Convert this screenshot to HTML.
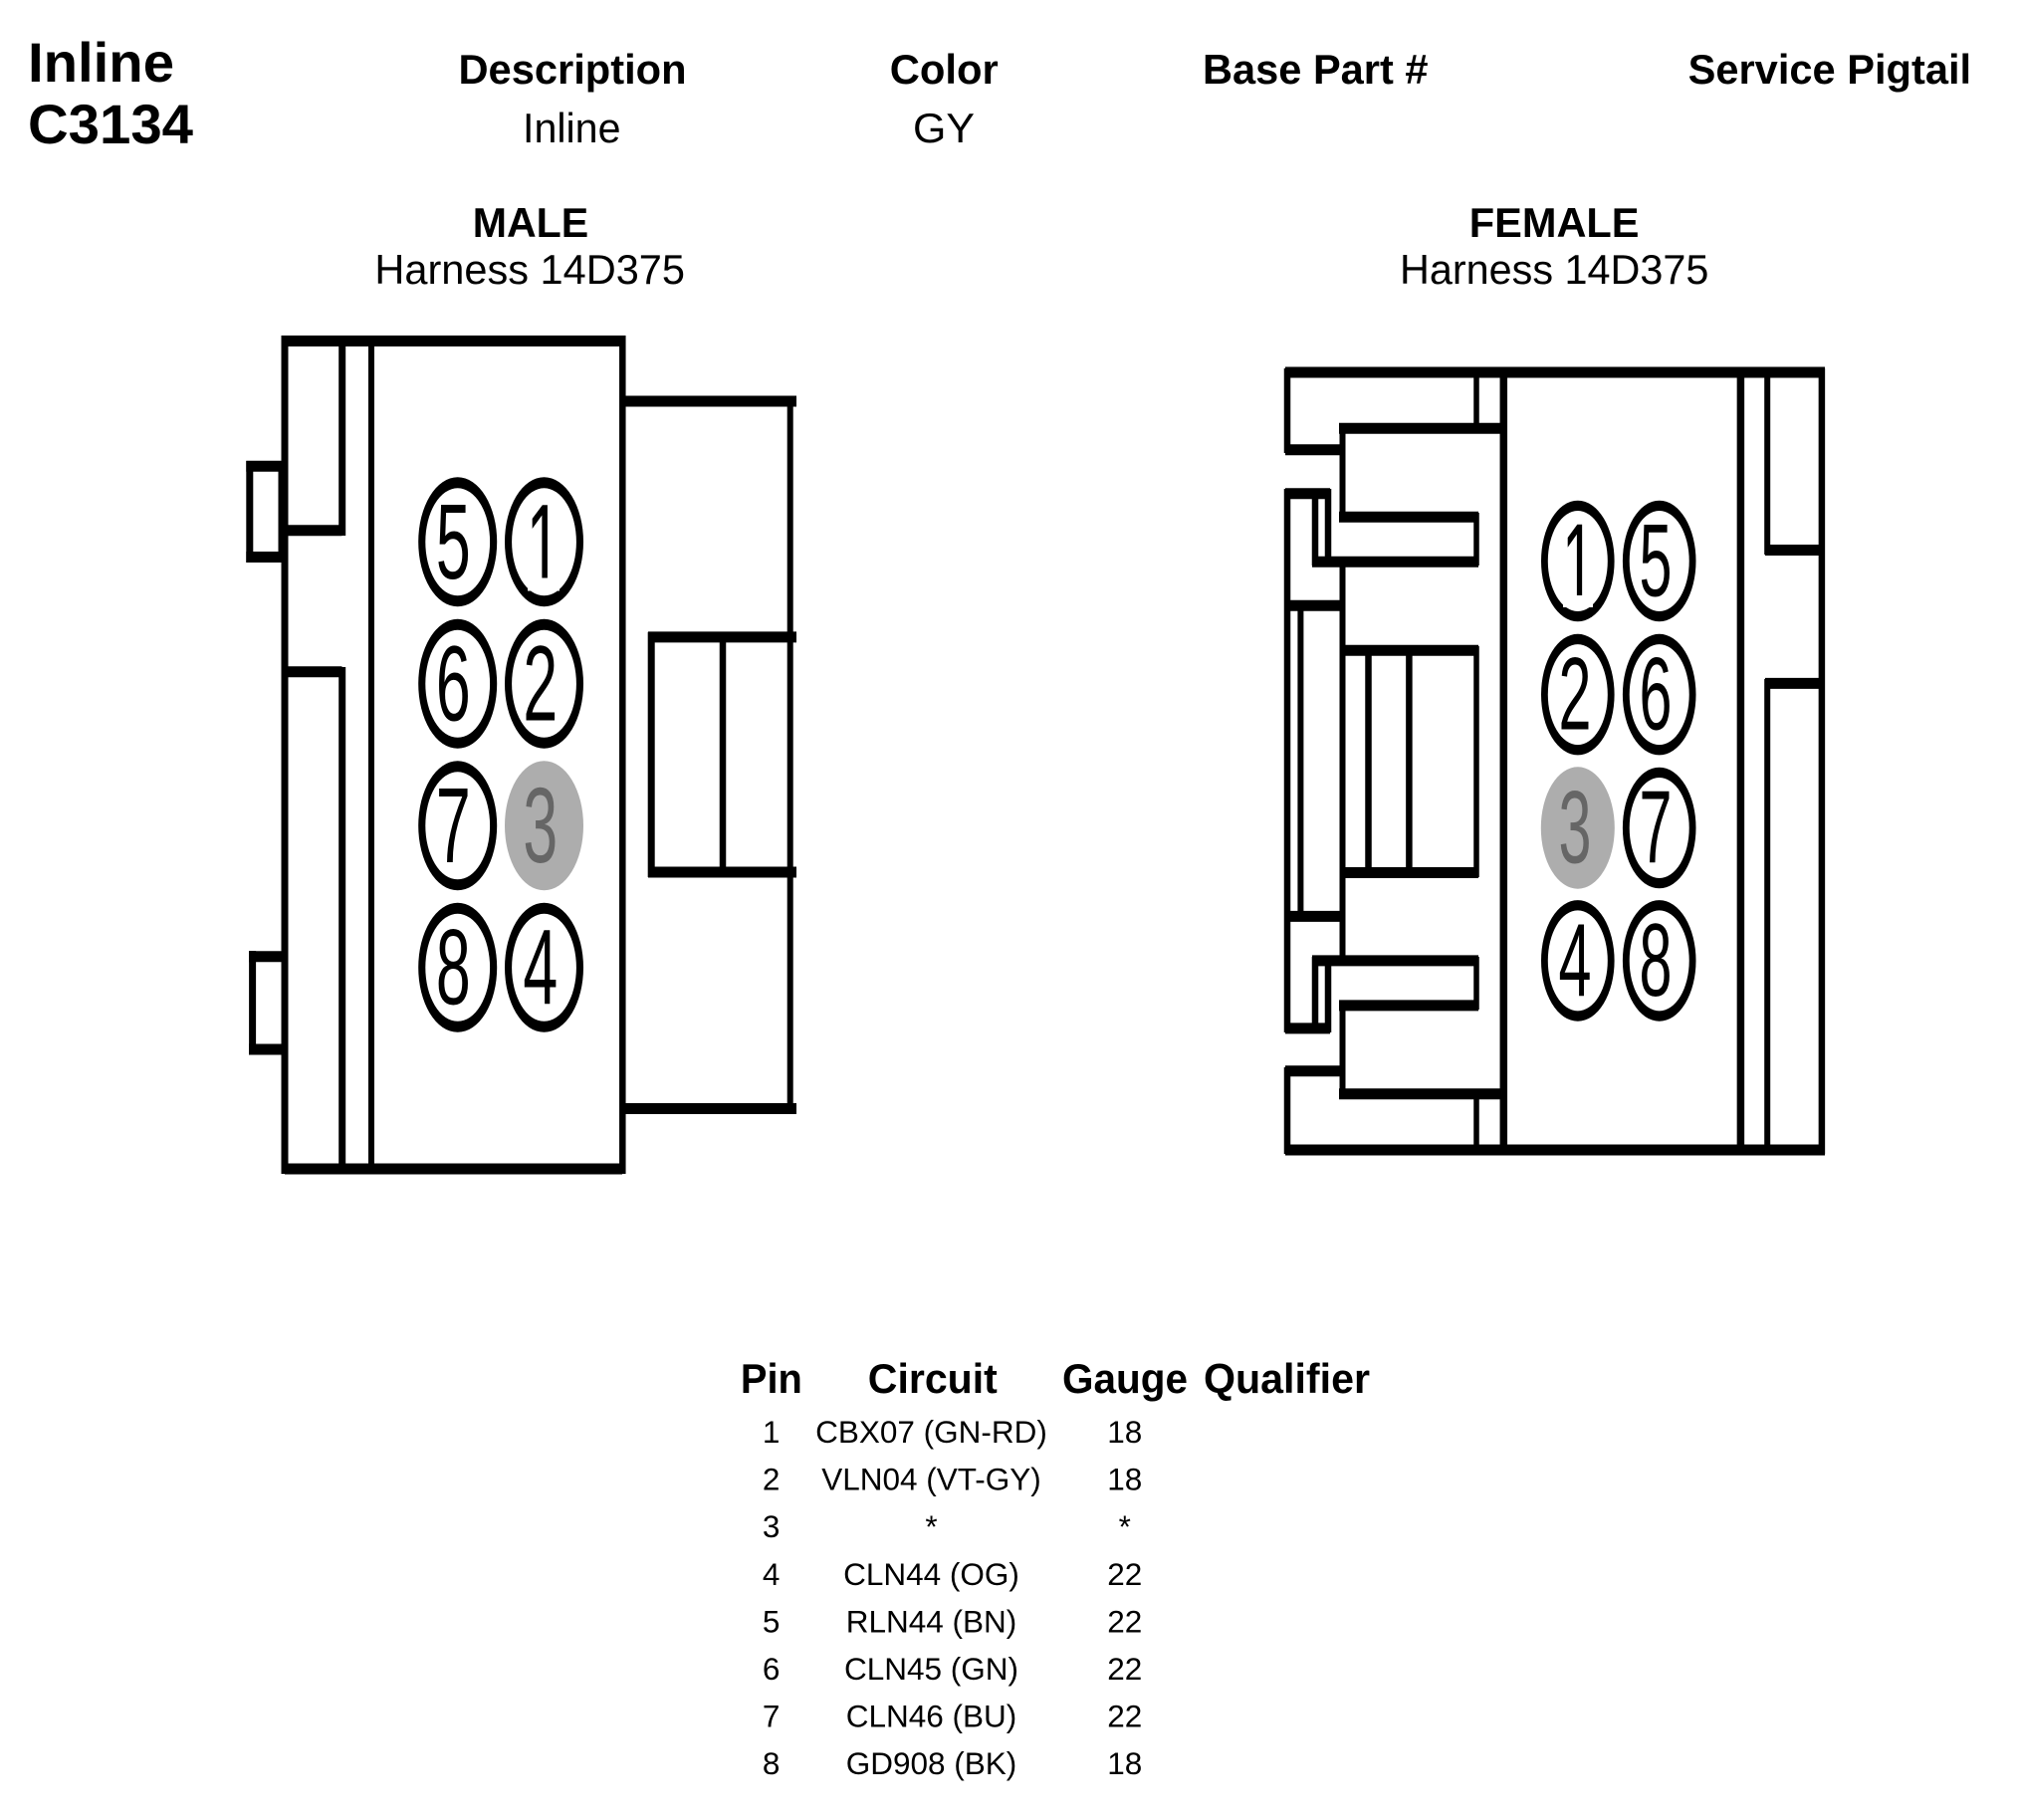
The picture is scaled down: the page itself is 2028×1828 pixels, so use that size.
<!DOCTYPE html>
<html lang="en">
<head>
<meta charset="utf-8">
<title>Inline C3134</title>
<style>
html,body{margin:0;padding:0;background:#fff}
svg{display:block}
text{font-family:"Liberation Sans",sans-serif;fill:#000}
.b{font-weight:700}
.n{font-size:108px}
.f{font-size:104px}
.r{font-size:31.5px;text-anchor:middle}
</style>
</head>
<body>
<svg xmlns="http://www.w3.org/2000/svg" width="2028" height="1828" viewBox="0 0 2028 1828">
<rect width="2028" height="1828" fill="#fff"/>

<!-- header -->
<text class="b" x="28" y="82" font-size="56" textLength="147" lengthAdjust="spacingAndGlyphs">Inline</text>
<text class="b" x="28" y="144" font-size="56" textLength="166" lengthAdjust="spacingAndGlyphs">C3134</text>
<text class="b" x="460.5" y="84" font-size="42" textLength="229" lengthAdjust="spacingAndGlyphs">Description</text>
<text class="b" x="893.7" y="84" font-size="42" textLength="109" lengthAdjust="spacingAndGlyphs">Color</text>
<text class="b" x="1208" y="84" font-size="42" textLength="226.5" lengthAdjust="spacingAndGlyphs">Base Part #</text>
<text class="b" x="1695.6" y="84" font-size="42" textLength="284.5" lengthAdjust="spacingAndGlyphs">Service Pigtail</text>
<text x="525" y="143" font-size="42" textLength="98.5" lengthAdjust="spacingAndGlyphs">Inline</text>
<text x="917" y="143" font-size="42" textLength="62" lengthAdjust="spacingAndGlyphs">GY</text>
<text class="b" x="474.7" y="238" font-size="42" textLength="116.5" lengthAdjust="spacingAndGlyphs">MALE</text>
<text class="b" x="1475.8" y="238" font-size="42" textLength="170.7" lengthAdjust="spacingAndGlyphs">FEMALE</text>
<text x="376.4" y="285" font-size="42" textLength="311.6" lengthAdjust="spacingAndGlyphs">Harness 14D375</text>
<text x="1406" y="285" font-size="42" textLength="310.4" lengthAdjust="spacingAndGlyphs">Harness 14D375</text>

<!-- male: horizontal lines -->
<g stroke="#000" fill="none" stroke-width="11">
<path d="M286 342.5H625M286 1174H625M286 532.8H343.5M286 674.7H343.5"/>
<path d="M628 403H800M628 1113.5H800M651 639.9H800M651 876H800"/>
<path d="M247.3 468.3H284M247.3 559.5H284M250 960.8H289M250 1054H289"/>
</g>
<!-- male: vertical lines -->
<g stroke="#000" fill="none" stroke-width="7">
<path d="M286 337V1179"/>
<path d="M343.7 337V538M343.7 670V1179"/>
<path stroke-width="6" d="M373 337V1179"/>
<path stroke-width="6.5" d="M625.3 337V1179"/>
<path stroke-width="6" d="M793.7 398V1118"/>
<path d="M654.2 635V881"/>
<path stroke-width="6.5" d="M726 635V881"/>
<path d="M250.8 463V565"/>
<path d="M283 463V565"/>
<path d="M253.6 955V1059"/>
</g>

<!-- male pins -->
<g>
<ellipse cx="459.7" cy="544.3" rx="39.5" ry="65"/><ellipse cx="459.7" cy="544.3" rx="32.4" ry="54" fill="#fff"/>
<ellipse cx="546.5" cy="544.3" rx="39.5" ry="65"/><ellipse cx="546.5" cy="544.3" rx="32.4" ry="54" fill="#fff"/>
<ellipse cx="459.7" cy="686.8" rx="39.5" ry="65"/><ellipse cx="459.7" cy="686.8" rx="32.4" ry="54" fill="#fff"/>
<ellipse cx="546.5" cy="686.8" rx="39.5" ry="65"/><ellipse cx="546.5" cy="686.8" rx="32.4" ry="54" fill="#fff"/>
<ellipse cx="459.7" cy="829.3" rx="39.5" ry="65"/><ellipse cx="459.7" cy="829.3" rx="32.4" ry="54" fill="#fff"/>
<ellipse cx="546.5" cy="829.3" rx="39.5" ry="65" fill="#adadad"/>
<ellipse cx="459.7" cy="971.8" rx="39.5" ry="65"/><ellipse cx="459.7" cy="971.8" rx="32.4" ry="54" fill="#fff"/>
<ellipse cx="546.5" cy="971.8" rx="39.5" ry="65"/><ellipse cx="546.5" cy="971.8" rx="32.4" ry="54" fill="#fff"/>
</g>
<g text-anchor="middle">
<text class="n" transform="translate(455.3 581) scale(.58 1)">5</text>
<text class="n" transform="translate(546 591) scale(.58 1.13)">1</text>
<text class="n" transform="translate(455.3 723.5) scale(.58 1)">6</text>
<text class="n" transform="translate(542.8 723.5) scale(.58 1)">2</text>
<text class="n" transform="translate(455.3 866) scale(.58 1)">7</text>
<text class="n" transform="translate(542.8 866) scale(.58 1)" style="fill:#666">3</text>
<text class="n" transform="translate(455.3 1008.5) scale(.58 1)">8</text>
<text class="n" transform="translate(542.8 1008.5) scale(.58 1)">4</text>
</g>
<rect x="530" y="580.5" width="32" height="13" fill="#fff"/>

<!-- female: horizontal lines -->
<g stroke="#000" fill="none" stroke-width="11">
<path d="M1291 374H1833M1291 1155H1833"/>
<path d="M1291 451.8H1349M1345 430.3H1510M1345 519.3H1485"/>
<path d="M1318 564.2H1485M1291 495.7H1336"/>
<path d="M1291 608.2H1351M1291 920.4H1351"/>
<path d="M1346 653.2H1485M1346 876.5H1485"/>
<path d="M1318 964.9H1485M1345 1009.9H1485"/>
<path d="M1345 1098.8H1510M1291 1032.9H1336M1291 1075.8H1349"/>
<path d="M1773 552.5H1830M1773 686.4H1830"/>
</g>
<!-- female: vertical lines -->
<g stroke="#000" fill="none" stroke-width="6.5">
<path d="M1293 370V455M1293 491V1037M1293 1072V1159"/>
<path stroke-width="6" d="M1348.5 426V523M1348.5 560V968M1348.5 1006V1103"/>
<path d="M1321 496V568M1334 491V568"/>
<path d="M1321 961V1037M1334 961V1037"/>
<path stroke-width="6" d="M1306.4 604V925"/>
<path d="M1374.5 650V880"/>
<path d="M1415.4 650V880"/>
<path stroke-width="5.5" d="M1483 370V430M1483 515V568M1483 649V881M1483 961V1014M1483 1096V1159"/>
<path stroke-width="7.5" d="M1510.3 370V1159"/>
<path stroke-width="7.5" d="M1748.4 370V1159"/>
<path stroke-width="6" d="M1775.2 370V557M1775.2 682V1159"/>
<path d="M1829.9 370V1159"/>
</g>

<!-- female pins -->
<g>
<ellipse cx="1584.8" cy="563.5" rx="36.8" ry="60.8"/><ellipse cx="1584.8" cy="563.5" rx="30" ry="50.5" fill="#fff"/>
<ellipse cx="1666.7" cy="563.5" rx="36.8" ry="60.8"/><ellipse cx="1666.7" cy="563.5" rx="30" ry="50.5" fill="#fff"/>
<ellipse cx="1584.8" cy="697.6" rx="36.8" ry="60.8"/><ellipse cx="1584.8" cy="697.6" rx="30" ry="50.5" fill="#fff"/>
<ellipse cx="1666.7" cy="697.6" rx="36.8" ry="60.8"/><ellipse cx="1666.7" cy="697.6" rx="30" ry="50.5" fill="#fff"/>
<ellipse cx="1584.8" cy="831.5" rx="37" ry="61.2" fill="#adadad"/>
<ellipse cx="1666.7" cy="831.5" rx="36.8" ry="60.8"/><ellipse cx="1666.7" cy="831.5" rx="30" ry="50.5" fill="#fff"/>
<ellipse cx="1584.8" cy="964.9" rx="36.8" ry="60.8"/><ellipse cx="1584.8" cy="964.9" rx="30" ry="50.5" fill="#fff"/>
<ellipse cx="1666.7" cy="964.9" rx="36.8" ry="60.8"/><ellipse cx="1666.7" cy="964.9" rx="30" ry="50.5" fill="#fff"/>
</g>
<g text-anchor="middle">
<text class="f" transform="translate(1585.5 608) scale(.57 1.13)">1</text>
<text class="f" transform="translate(1663 598.5) scale(.57 1)">5</text>
<text class="f" transform="translate(1582 732.6) scale(.57 1)">2</text>
<text class="f" transform="translate(1663 732.6) scale(.57 1)">6</text>
<text class="f" transform="translate(1582 866.5) scale(.57 1)" style="fill:#666">3</text>
<text class="f" transform="translate(1663 866.5) scale(.57 1)">7</text>
<text class="f" transform="translate(1582 999.9) scale(.57 1)">4</text>
<text class="f" transform="translate(1663 999.9) scale(.57 1)">8</text>
</g>
<rect x="1570" y="598" width="30" height="12" fill="#fff"/>

<!-- pin table -->
<text class="b" x="743.9" y="1399" font-size="42" textLength="62" lengthAdjust="spacingAndGlyphs">Pin</text>
<text class="b" x="871.8" y="1399" font-size="42" textLength="130" lengthAdjust="spacingAndGlyphs">Circuit</text>
<text class="b" x="1067" y="1399" font-size="42" textLength="126" lengthAdjust="spacingAndGlyphs">Gauge</text>
<text class="b" x="1209" y="1399" font-size="42" textLength="167" lengthAdjust="spacingAndGlyphs">Qualifier</text>

<text class="r" x="774.6" y="1449">1</text><text class="r" x="935.5" y="1449">CBX07 (GN-RD)</text><text class="r" x="1129.8" y="1449">18</text>
<text class="r" x="774.6" y="1496.6">2</text><text class="r" x="935.5" y="1496.6">VLN04 (VT-GY)</text><text class="r" x="1129.8" y="1496.6">18</text>
<text class="r" x="774.6" y="1544.2">3</text><text class="r" x="935.5" y="1544.2">*</text><text class="r" x="1129.8" y="1544.2">*</text>
<text class="r" x="774.6" y="1591.8">4</text><text class="r" x="935.5" y="1591.8">CLN44 (OG)</text><text class="r" x="1129.8" y="1591.8">22</text>
<text class="r" x="774.6" y="1639.4">5</text><text class="r" x="935.5" y="1639.4">RLN44 (BN)</text><text class="r" x="1129.8" y="1639.4">22</text>
<text class="r" x="774.6" y="1687">6</text><text class="r" x="935.5" y="1687">CLN45 (GN)</text><text class="r" x="1129.8" y="1687">22</text>
<text class="r" x="774.6" y="1734.6">7</text><text class="r" x="935.5" y="1734.6">CLN46 (BU)</text><text class="r" x="1129.8" y="1734.6">22</text>
<text class="r" x="774.6" y="1782">8</text><text class="r" x="935.5" y="1782">GD908 (BK)</text><text class="r" x="1129.8" y="1782">18</text>
</svg>
</body>
</html>
